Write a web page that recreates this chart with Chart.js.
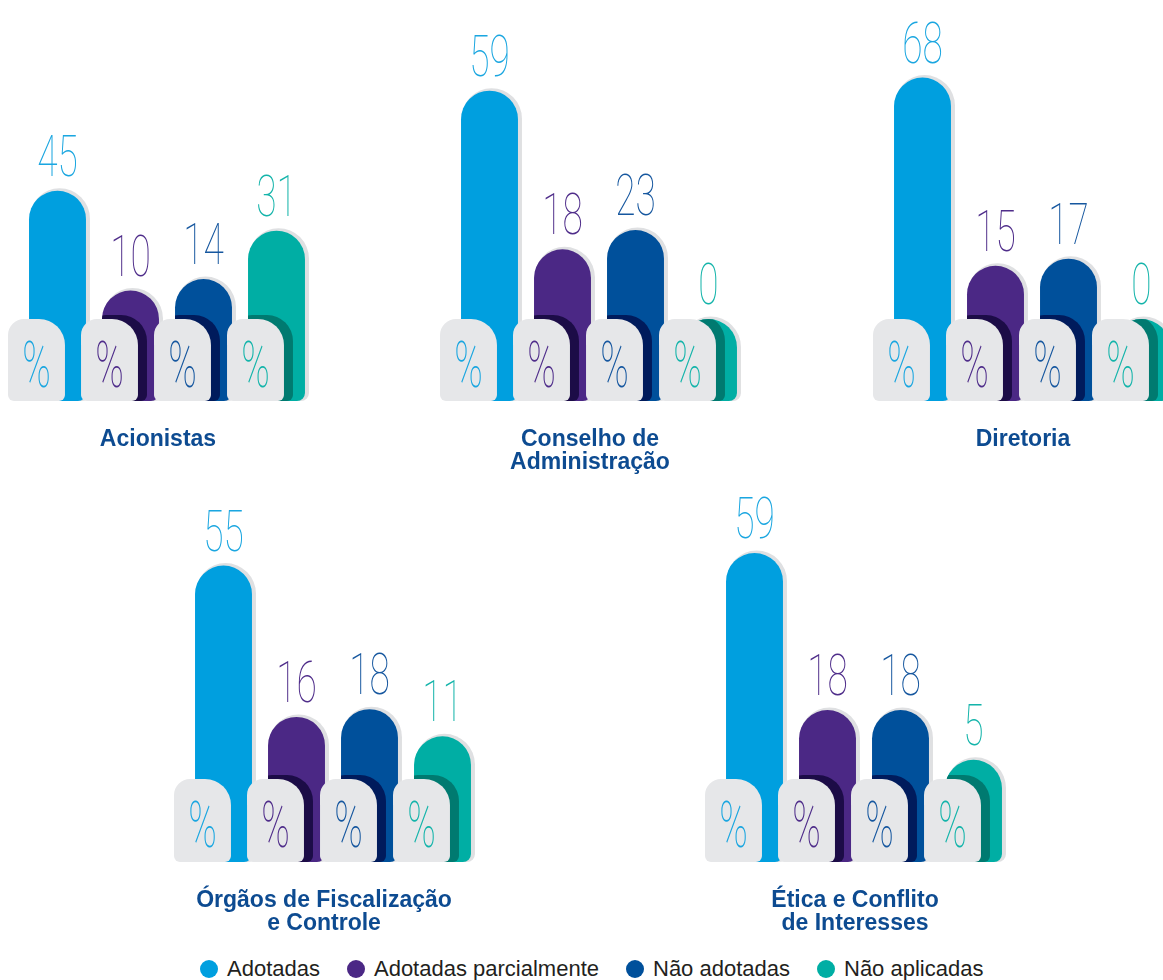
<!DOCTYPE html>
<html>
<head>
<meta charset="utf-8">
<script src="https://cdn.jsdelivr.net/npm/chart.js@4.4.0/dist/chart.umd.min.js"></script>
<style>
	body { margin: 0; background: #fff; width: 1163px; height: 980px; overflow: hidden; position: relative; }
	canvas { position: absolute; }
	#legend { position: absolute; left: 200px; top: 957px; height: 24px; display: flex; align-items: center;
		font-family: "Liberation Sans", Arial, sans-serif; font-size: 22px; color: #231f20; white-space: nowrap; }
	#legend span.dot { display: inline-block; width: 18px; height: 18px; border-radius: 50%; margin-right: 9px; }
	#legend .item { display: flex; align-items: center; margin-right: 27px; }
</style>
</head>
<body>
<div id="legend"></div>
<script>
const seriesNames = ['Adotadas', 'Adotadas parcialmente', 'Não adotadas', 'Não aplicadas'];
const acionistas = [45, 10, 14, 31];
const conselho = [59, 18, 23, 0];
const diretoria = [68, 15, 17, 0];
const orgaos = [55, 16, 18, 11];
const etica = [59, 18, 18, 5];

const colors = ['#009fdf', '#4b2885', '#00509b', '#00aea4'];
const darkColors = [null, '#1c0c47', '#001b5c', '#007a70'];
const labelColors = ['#1aa6e0', '#4f2d8a', '#16579f', '#14b4aa'];

// rows: canvas top, plot height (bar base), pixel of value 0 (top of the grey tabs)
const rows = [
	{top: 0, plot: 401, zero: 319},
	{top: 480, plot: 382, zero: 299}
];

const panels = [
	{title: ['Acionistas'], data: acionistas, left: 8, row: 0, k: 2.85},
	{title: ['Conselho de', 'Administração'], data: conselho, left: 440, row: 0, k: 3.87},
	{title: ['Diretoria'], data: diretoria, left: 873, row: 0, k: 3.55},
	{title: ['Órgãos de Fiscalização', 'e Controle'], data: orgaos, left: 174, row: 1, k: 3.88},
	{title: ['Ética e Conflito', 'de Interesses'], data: etica, left: 705, row: 1, k: 3.83}
];

const tabPath = (ctx, x, y, w, h) => {
	ctx.beginPath();
	ctx.roundRect(x, y, w, h, [16, 26, 6, 6]);
};

const thinText = (ctx, txt, x, y, color, size, sx) => {
	ctx.save();
	ctx.translate(x, y);
	ctx.scale(sx, 1);
	ctx.font = `100 ${size}px Roboto`;
	ctx.fillStyle = color;
	ctx.textAlign = 'center';
	ctx.textBaseline = 'alphabetic';
	ctx.fillText(txt, 0, 0);
	ctx.restore();
};

const barBox = bar => bar.getProps(['x', 'y', 'base', 'width'], true);

const decor = {
	id: 'decor',
	beforeDatasetsDraw(chart) {
		const ctx = chart.ctx;
		ctx.save();
		ctx.fillStyle = '#dfe0e2';
		chart.getDatasetMeta(0).data.forEach(bar => {
			const {x, y, base, width} = barBox(bar);
			ctx.beginPath();
			ctx.roundRect(x - width / 2 + 1, y - 2.5, width + 3, base - y + 2.5, [width / 2 + 1, width / 2 + 2, 8, 0]);
			ctx.fill();
		});
		ctx.restore();
	},
	afterDatasetsDraw(chart) {
		const ctx = chart.ctx;
		const zero = chart.scales.y.getPixelForValue(0);
		const values = chart.data.datasets[0].data;
		chart.getDatasetMeta(0).data.forEach((bar, i) => {
			const {x, y, base, width} = barBox(bar);
			const left = x - width / 2;
			const tabL = left - 21;
			if (darkColors[i]) {
				ctx.save();
				ctx.beginPath();
				ctx.roundRect(left, y, width, base - y, [width / 2, width / 2, 8, 0]);
				ctx.clip();
				ctx.fillStyle = darkColors[i];
				tabPath(ctx, tabL + 9, zero - 4, width, base - zero + 4);
				ctx.fill();
				ctx.restore();
			}
			ctx.fillStyle = '#e6e7e9';
			tabPath(ctx, tabL, zero, width, base - zero);
			ctx.fill();
			thinText(ctx, '%', tabL + width / 2, zero + 68, labelColors[i], 64, 0.6);
			thinText(ctx, String(values[i]), x, y - 15, labelColors[i], 57, 0.65);
		});
	}
};

panels.forEach(p => {
	const r = rows[p.row];
	const canvas = document.createElement('canvas');
	canvas.width = 317;
	canvas.height = r.plot + 73;
	canvas.style.left = (p.left - 10) + 'px';
	canvas.style.top = r.top + 'px';
	document.body.appendChild(canvas);
	const yMin = -(r.plot - r.zero) / p.k;
	const yMax = r.zero / p.k;
	new Chart(canvas, {
		type: 'bar',
		data: {
			labels: seriesNames,
			datasets: [{
				label: p.title.join(' '),
				data: p.data,
				base: yMin,
				backgroundColor: colors,
				borderWidth: 0,
				borderSkipped: false,
				borderRadius: {topLeft: 30, topRight: 30, bottomRight: 8, bottomLeft: 0},
				inflateAmount: 0,
				categoryPercentage: 1,
				barPercentage: 0.78
			}]
		},
		options: {
			responsive: false,
			animation: false,
			events: [],
			layout: {padding: {left: 5, right: 2, top: 0, bottom: 0}},
			scales: {
				x: {display: false, offset: true},
				y: {
					min: yMin, max: yMax,
					grid: {display: false}, border: {display: false},
					ticks: {display: false},
					afterFit: s => { s.width = 18; }
				}
			},
			plugins: {
				legend: {display: false},
				tooltip: {enabled: false},
				title: {
					display: true,
					position: 'bottom',
					text: p.title,
					color: '#0d4b91',
					font: {family: '"Liberation Sans", Arial, sans-serif', weight: 'bold', size: 23, lineHeight: '23px'},
					padding: {top: 27, bottom: 23 * (2 - p.title.length)}
				}
			}
		},
		plugins: [decor]
	});
});

const legend = document.getElementById('legend');
seriesNames.forEach((name, i) => {
	const item = document.createElement('div');
	item.className = 'item';
	item.innerHTML = `<span class="dot" style="background:${colors[i]}"></span>${name}`;
	legend.appendChild(item);
});
</script>
</body>
</html>
